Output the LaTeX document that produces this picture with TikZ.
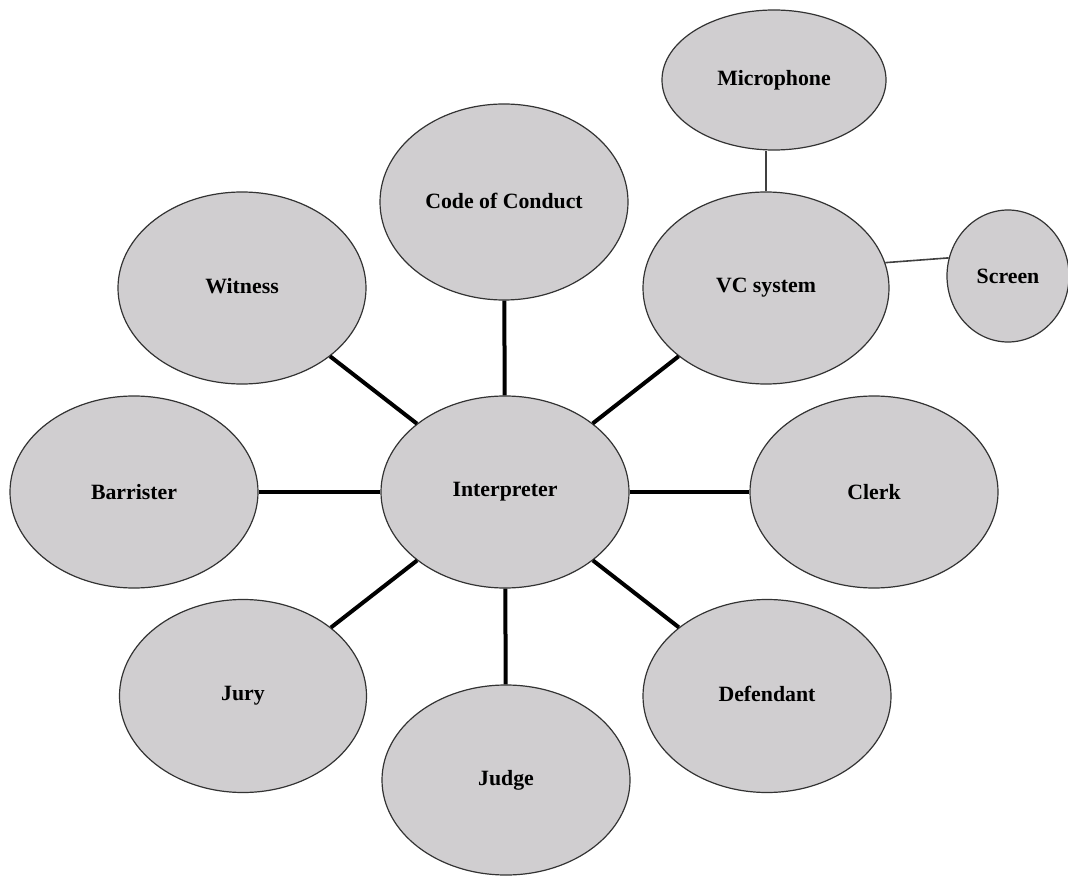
\documentclass[tikz,border=0pt]{standalone}
\usepackage{fontspec}
\setmainfont{Liberation Serif}
\usepackage{tikz}
\usetikzlibrary{shapes.geometric}

\definecolor{bubblegrey}{RGB}{208,206,208}

\begin{document}
\begin{tikzpicture}[
    x=1pt, y=-1pt,
    font=\fontsize{21.8}{26}\selectfont\bfseries,
    bubble/.style={ellipse, draw=black!80, line width=1.2pt, fill=bubblegrey, inner sep=0pt, minimum width=248pt, minimum height=192pt, align=center},
    link/.style={line width=4pt},
    thinlink/.style={line width=1.6pt, draw=black!75}
]
\useasboundingbox (0,0) rectangle (1068,877);

\node[bubble] (interp) at (505,492) {\raisebox{3pt}{Interpreter}};
\node[bubble, minimum height=196pt] (conduct) at (504,202) {\raisebox{3pt}{Code of Conduct}};
\node[bubble] (witness) at (242,288) {\raisebox{5pt}{Witness}};
\node[bubble] (barrister) at (134,492) {Barrister};
\node[bubble, minimum width=247pt, minimum height=193pt] (jury) at (243,696) {\raisebox{3pt}{Jury}};
\node[bubble, minimum height=190pt] (judge) at (506,780) {\raisebox{5pt}{Judge}};
\node[bubble, minimum height=193pt] (defendant) at (767,696) {\raisebox{4pt}{Defendant}};
\node[bubble] (clerk) at (874,492) {Clerk};
\node[bubble, minimum width=246pt] (vc) at (766,288) {\raisebox{3pt}{VC system}};
\node[bubble, minimum width=224pt, minimum height=140pt] (mic) at (774,80) {Microphone};
\node[bubble, minimum width=122pt, minimum height=132pt] (screen) at (1008,276) {Screen};

% spokes from the interpreter
\draw[link] (interp) -- (witness);
\draw[link] (interp) -- (conduct);
\draw[link] (interp) -- (vc);
\draw[link] (interp) -- (barrister);
\draw[link] (interp) -- (clerk);
\draw[link] (interp) -- (jury);
\draw[link] (interp) -- (judge);
\draw[link] (interp) -- (defendant);

% VC equipment
\draw[thinlink] (vc.north) -- (vc.north |- mic.south);
\draw[thinlink] (vc.12) -- (screen.163);
\end{tikzpicture}
\end{document}
